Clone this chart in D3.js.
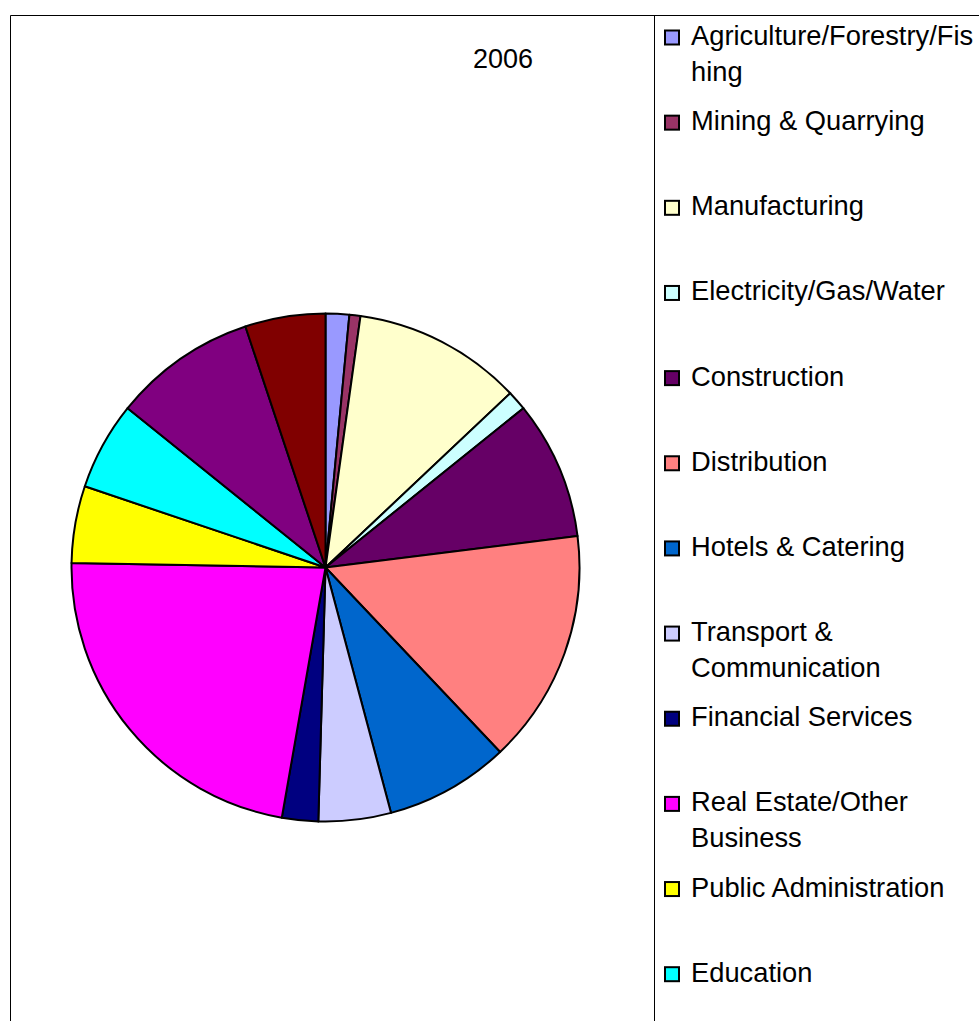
<!DOCTYPE html>
<html>
<head>
<meta charset="utf-8">
<script src="https://cdn.jsdelivr.net/npm/d3@7"></script>
<style>
  body { margin: 0; background: #fff; }
</style>
</head>
<body>
<div id="wrapper"></div>
<script>
width = 979
height = 1021

// share of each sector, percent
var sectors = ["Agriculture/Forestry/Fishing", "Mining & Quarrying", "Manufacturing",
    "Electricity/Gas/Water", "Construction", "Distribution", "Hotels & Catering",
    "Transport & Communication", "Financial Services", "Real Estate/Other Business",
    "Public Administration", "Education", "Health", "Other Services"]
var shares = [1.5, 0.7, 10.75, 1.25, 8.8, 14.9, 7.9, 4.6, 2.3, 22.5, 4.9, 5.6, 9.1, 5.1]
// how the legend wraps the names
var legendLines = [["Agriculture/Forestry/Fis", "hing"], ["Mining & Quarrying"], ["Manufacturing"],
    ["Electricity/Gas/Water"], ["Construction"], ["Distribution"], ["Hotels & Catering"],
    ["Transport &", "Communication"], ["Financial Services"], ["Real Estate/Other", "Business"],
    ["Public Administration"], ["Education"], ["Health"], ["Other Services"]]
var colors = ["#9999ff", "#993366", "#ffffcc", "#ccffff", "#660066", "#ff8080", "#0066cc",
    "#ccccff", "#000080", "#ff00ff", "#ffff00", "#00ffff", "#800080", "#800000"]
var title = "2006"

var cx = 325.5, cy = 567.5, radius = 254

const svg = d3.select("#wrapper").append("svg")
    .attr("width", width)
    .attr("height", height)
    .style("font-family", "'Liberation Sans', Arial, sans-serif")

// frame of the chart area and the legend divider
svg.append("path")
    .attr("d", `M10.5,${height + 5} V15.5 H${width + 5}`)
    .attr("fill", "none")
    .attr("stroke", "#000")
    .attr("stroke-width", 1)
svg.append("line")
    .attr("x1", 654.5).attr("x2", 654.5)
    .attr("y1", 15).attr("y2", height + 5)
    .attr("stroke", "#000")
    .attr("stroke-width", 1)

svg.append("text")
    .attr("x", 503)
    .attr("y", 68)
    .attr("text-anchor", "middle")
    .style("font-size", "27px")
    .text(title)

var pie = d3.pie().sort(null).value(d => d)
var arc = d3.arc().innerRadius(0).outerRadius(radius)

svg.append("g")
    .attr("transform", `translate(${cx},${cy})`)
    .selectAll("path")
    .data(pie(shares))
    .join("path")
    .attr("d", arc)
    .attr("fill", (d, i) => colors[i])
    .attr("stroke", "#000")
    .attr("stroke-width", 2)
    .attr("stroke-linejoin", "round")

// legend, one slot per sector; the last ones fall below the window
var slot = d3.scaleLinear().domain([0, 11]).range([45, 981.7])
var shown = sectors.filter((d, i) => slot(i) < height)

const legend = svg.append("g")
    .selectAll("g")
    .data(shown)
    .join("g")
    .attr("transform", (d, i) => `translate(0,${slot(i)})`)

legend.append("rect")
    .attr("x", 665)
    .attr("y", -14.5)
    .attr("width", 14)
    .attr("height", 14)
    .attr("fill", (d, i) => colors[i])
    .attr("stroke", "#000")
    .attr("stroke-width", 2)

legend.append("text")
    .attr("x", 691)
    .style("font-size", "27.3px")
    .selectAll("tspan")
    .data((d, i) => legendLines[i])
    .join("tspan")
    .attr("x", 691)
    .attr("y", (d, j) => j * 36)
    .text(d => d)
</script>
</body>
</html>
